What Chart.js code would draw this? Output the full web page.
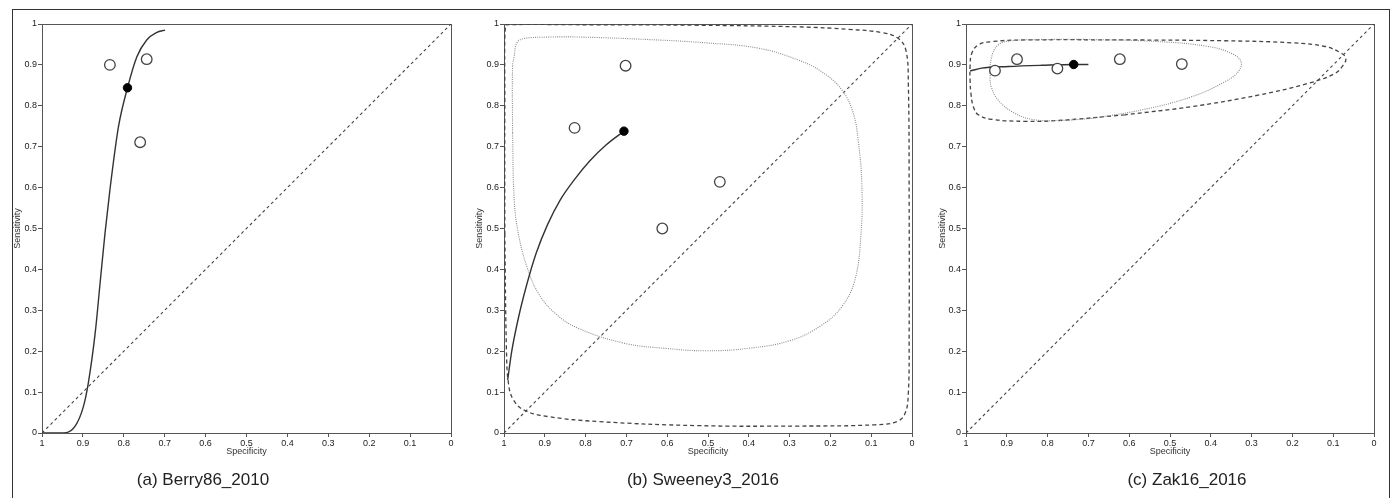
<!DOCTYPE html>
<html lang="en">
<head>
<meta charset="UTF-8">
<title>SROC plots</title>
<script src="https://cdn.jsdelivr.net/npm/chart.js"></script>
<style>
body { margin: 0; background: #fff; overflow: hidden; font-family: "Liberation Sans", Arial, sans-serif; }
#frame { position: absolute; left: 12px; top: 9px; width: 1376px; height: 520px; border: 1px solid #333; border-bottom: none; }
canvas { position: absolute; top: 0; }
.caption { position: absolute; top: 470px; font-size: 17px; color: #222; white-space: nowrap; transform: translateX(-50%); }
</style>
</head>
<body>
<div id="frame"></div>
<canvas id="roc_a" width="465" height="498" style="left:0px"></canvas>
<canvas id="roc_b" width="460" height="498" style="left:465px"></canvas>
<canvas id="roc_c" width="469" height="498" style="left:925px"></canvas>
<div class="caption" style="left:203px">(a) Berry86_2010</div>
<div class="caption" style="left:703px">(b) Sweeney3_2016</div>
<div class="caption" style="left:1187px">(c) Zak16_2016</div>
<script>
// [specificity, sensitivity] pairs
const tickLabels = ['0', '0.1', '0.2', '0.3', '0.4', '0.5', '0.6', '0.7', '0.8', '0.9', '1'];
const diagonal = [[1, 0], [0, 1]];

// (a) Berry86_2010
const berryStudies = [[0.834, 0.900], [0.744, 0.914], [0.760, 0.711]];
const berrySummary = [[0.791, 0.844]];
const berryCurve = [[1.000, 0.000], [0.948, 0.000], [0.919, 0.017], [0.899, 0.064], [0.887, 0.121],
    [0.870, 0.244], [0.858, 0.366], [0.846, 0.488], [0.834, 0.594], [0.813, 0.749], [0.791, 0.844],
    [0.768, 0.920], [0.744, 0.961], [0.720, 0.979], [0.699, 0.985]];

// (b) Sweeney3_2016
const sweeneyStudies = [[0.702, 0.898], [0.827, 0.746], [0.471, 0.614], [0.612, 0.500]];
const sweeneySummary = [[0.706, 0.738]];
const sweeneyCurve = [[0.991, 0.130], [0.981, 0.200], [0.965, 0.280], [0.945, 0.360], [0.921, 0.440],
    [0.893, 0.510], [0.862, 0.570], [0.827, 0.620], [0.790, 0.665], [0.750, 0.704], [0.706, 0.738]];
const sweeneyConfidence = [[0.979, 0.733], [0.975, 0.570], [0.965, 0.488], [0.944, 0.407], [0.916, 0.342],
    [0.875, 0.293], [0.818, 0.256], [0.703, 0.219], [0.605, 0.207], [0.507, 0.201], [0.401, 0.207],
    [0.295, 0.227], [0.221, 0.264], [0.172, 0.309], [0.140, 0.374], [0.125, 0.488], [0.123, 0.610],
    [0.132, 0.716], [0.144, 0.782], [0.172, 0.839], [0.221, 0.883], [0.279, 0.912], [0.377, 0.941],
    [0.507, 0.954], [0.646, 0.962], [0.810, 0.968], [0.891, 0.968], [0.953, 0.964], [0.969, 0.953],
    [0.975, 0.921], [0.979, 0.896], [0.979, 0.733]];
const sweeneyPrediction = [[0.998, 0.488], [0.994, 0.203], [0.989, 0.121], [0.977, 0.081], [0.949, 0.055],
    [0.891, 0.040], [0.769, 0.028], [0.524, 0.018], [0.279, 0.017], [0.091, 0.020], [0.037, 0.028],
    [0.017, 0.048], [0.009, 0.097], [0.007, 0.244], [0.007, 0.570], [0.009, 0.855], [0.015, 0.936],
    [0.034, 0.965], [0.074, 0.979], [0.156, 0.987], [0.279, 0.993], [0.524, 0.997], [0.769, 0.998],
    [0.996, 0.998], [0.998, 0.814], [0.998, 0.488]];

// (c) Zak16_2016
const zakStudies = [[0.929, 0.886], [0.875, 0.914], [0.776, 0.891], [0.623, 0.914], [0.471, 0.902]];
const zakSummary = [[0.736, 0.901]];
const zakCurve = [[0.990, 0.885], [0.962, 0.892], [0.896, 0.896], [0.814, 0.899], [0.736, 0.901], [0.700, 0.901]];
const zakConfidence = [[0.692, 0.769], [0.774, 0.764], [0.839, 0.767], [0.888, 0.786], [0.921, 0.814],
    [0.937, 0.843], [0.941, 0.871], [0.937, 0.920], [0.921, 0.949], [0.888, 0.959], [0.814, 0.962],
    [0.692, 0.962], [0.529, 0.957], [0.406, 0.945], [0.349, 0.928], [0.326, 0.908], [0.333, 0.883],
    [0.365, 0.859], [0.447, 0.822], [0.569, 0.790], [0.692, 0.769]];
const zakPrediction = [[0.610, 0.778], [0.774, 0.764], [0.855, 0.762], [0.937, 0.767], [0.970, 0.778],
    [0.982, 0.798], [0.988, 0.831], [0.990, 0.863], [0.990, 0.896], [0.986, 0.928], [0.970, 0.949],
    [0.937, 0.957], [0.855, 0.961], [0.610, 0.961], [0.365, 0.959], [0.202, 0.954], [0.120, 0.945],
    [0.079, 0.928], [0.069, 0.916], [0.075, 0.900], [0.096, 0.879], [0.161, 0.855], [0.284, 0.826],
    [0.447, 0.798], [0.610, 0.778]];

const toXY = arr => arr.map(p => ({x: p[0], y: p[1]}));
const axisColor = '#555';

// draw the top and right sides of the plot box too
const boxPlugin = {
    id: 'box',
    beforeDatasetsDraw(chart) {
        const a = chart.chartArea, ctx = chart.ctx;
        ctx.save();
        ctx.strokeStyle = axisColor;
        ctx.lineWidth = 1;
        ctx.strokeRect(Math.round(a.left) + 0.5, Math.round(a.top) + 0.5,
            Math.round(a.right - a.left), Math.round(a.bottom - a.top));
        ctx.restore();
    }
};

function lineSet(data, color, width, dash, mode) {
    return {
        data: toXY(data), showLine: true, pointRadius: 0, borderColor: color,
        borderWidth: width, borderDash: dash, fill: false,
        tension: mode === 'straight' ? 0 : 0.4,
        cubicInterpolationMode: mode === 'monotone' ? 'monotone' : 'default'
    };
}

function makeRoc(id, yWidth, padRight, yTitlePad, p) {
    const datasets = [
        {data: toXY(p.summary), pointRadius: 4.2, pointBackgroundColor: '#000', pointBorderColor: '#000', showLine: false},
        {data: toXY(p.studies), pointRadius: 5.3, pointBackgroundColor: '#fff', pointBorderColor: '#444',
            pointBorderWidth: 1.3, showLine: false},
        lineSet(p.curve, '#333', 1.4, [], 'monotone')
    ];
    if (p.confidence) datasets.push(lineSet(p.confidence, '#8a8a8a', 1.1, [1, 1.2], 'loop'));
    if (p.prediction) datasets.push(lineSet(p.prediction, '#444', 1.3, [4, 3], 'loop'));
    datasets.push(lineSet(diagonal, '#444', 1.1, [3, 3], 'straight'));

    const tickFont = {family: '"Liberation Sans", Arial, sans-serif', size: 9};
    const titleFont = {family: '"Liberation Sans", Arial, sans-serif', size: 9};
    new Chart(document.getElementById(id), {
        type: 'scatter',
        data: {datasets: datasets},
        options: {
            responsive: false,
            animation: false,
            layout: {padding: {left: 0, top: 24, right: padRight, bottom: 35}},
            plugins: {legend: {display: false}, tooltip: {enabled: false}},
            scales: {
                x: {
                    type: 'linear', min: 0, max: 1, reverse: true,
                    afterFit: s => { s.height = 30; },
                    ticks: {stepSize: 0.1, padding: 1, color: '#222', font: tickFont, maxRotation: 0,
                        callback: v => tickLabels[Math.round(v * 10)]},
                    grid: {drawOnChartArea: false, tickLength: 4, color: axisColor},
                    border: {color: axisColor},
                    title: {display: true, text: 'Specificity', color: '#333', font: titleFont,
                        padding: {top: 0, bottom: 5.6}}
                },
                y: {
                    type: 'linear', min: 0, max: 1,
                    afterFit: s => { s.width = yWidth; },
                    ticks: {stepSize: 0.1, padding: 1, color: '#222', font: tickFont,
                        callback: v => tickLabels[Math.round(v * 10)]},
                    grid: {drawOnChartArea: false, tickLength: 4, color: axisColor},
                    border: {color: axisColor},
                    title: {display: true, text: 'Sensitivity', color: '#333', font: titleFont,
                        padding: {top: yTitlePad, bottom: 0}}
                }
            }
        },
        plugins: [boxPlugin]
    });
}

makeRoc('roc_a', 42, 14, 12.6, {studies: berryStudies, summary: berrySummary, curve: berryCurve});
makeRoc('roc_b', 39, 13, 9.6, {studies: sweeneyStudies, summary: sweeneySummary, curve: sweeneyCurve,
    confidence: sweeneyConfidence, prediction: sweeneyPrediction});
makeRoc('roc_c', 41, 20, 12.6, {studies: zakStudies, summary: zakSummary, curve: zakCurve,
    confidence: zakConfidence, prediction: zakPrediction});
</script>
</body>
</html>
